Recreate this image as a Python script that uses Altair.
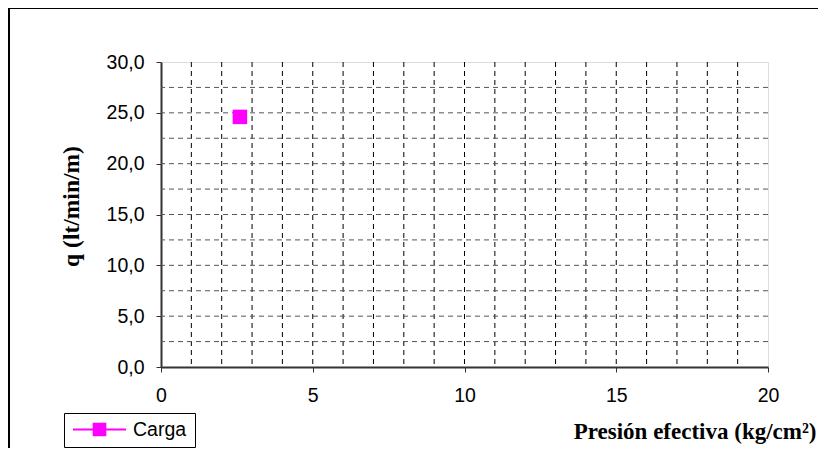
import altair as alt
import pandas as pd

# data
serie = ["Carga"]
presion = [2.6]
caudal = [24.6]

x_grid = list(range(1, 20))
y_grid = [2.5, 5, 7.5, 10, 12.5, 15, 17.5, 20, 22.5, 25, 27.5]
x_ticks = [0, 5, 10, 15, 20]
y_ticks = [0, 5, 10, 15, 20, 25, 30]

pts = pd.DataFrame({"serie": serie, "p": presion, "q": caudal})
xg = pd.DataFrame({"p": x_grid})
yg = pd.DataFrame({"q": y_grid})
one = pd.DataFrame({"a": [0]})

W, H = 607, 305

xscale = alt.Scale(domain=[0, 20], nice=False, zero=False)
yscale = alt.Scale(domain=[0, 30], nice=False, zero=False)

xaxis = alt.Axis(values=x_ticks, grid=False, title="Presión efectiva (kg/cm²)",
                 titleFont="Liberation Serif", titleFontSize=23, titleFontWeight="bold",
                 titleColor="black", titleAnchor="end", titleAlign="right",
                 titleBaseline="alphabetic", titleX=655, titleY=71,
                 labelFont="Liberation Sans", labelFontSize=19.5, labelColor="black",
                 labelPadding=14, tickSize=5, tickColor="#333333", tickWidth=1,
                 domainColor="#333333", domainWidth=2, labelFlush=False)
yaxis = alt.Axis(values=y_ticks, grid=False, title="q (lt/min/m)",
                 titleFont="Liberation Serif", titleFontSize=23.5, titleFontWeight="bold",
                 titleColor="black", titleAngle=-90, titleAlign="center",
                 titleBaseline="middle", titleX=-90, titleY=144,
                 labelExpr="replace(format(datum.value, '.1f'), '.', ',')",
                 labelFont="Liberation Sans", labelFontSize=19.5, labelColor="black",
                 labelPadding=12, tickSize=5, tickColor="#333333", tickWidth=1,
                 domainColor="#333333", domainWidth=2, labelFlush=False)

border = alt.Chart(one).mark_rect(fill=None, stroke="black", strokeWidth=2, clip=False).encode(
    x=alt.value(-152), x2=alt.value(720), y=alt.value(-54), y2=alt.value(420)
)

vgrid = alt.Chart(xg).mark_rule(color="black", strokeWidth=1, strokeDash=[5, 4]).encode(
    x=alt.X("p:Q", scale=xscale, axis=xaxis)
)
hgrid = alt.Chart(yg).mark_rule(color="#555555", strokeWidth=1, strokeDash=[5, 4]).encode(
    y=alt.Y("q:Q", scale=yscale, axis=yaxis)
)

points = alt.Chart(pts).mark_point(shape="square", filled=True, size=210, opacity=1).encode(
    x=alt.X("p:Q", scale=xscale, axis=xaxis),
    y=alt.Y("q:Q", scale=yscale, axis=yaxis),
    color=alt.Color("serie:N", scale=alt.Scale(domain=serie, range=["#FF00FF"]),
                    legend=alt.Legend(title=None, orient="none", legendX=-97, legendY=351,
                                      strokeColor="black", padding=8, clipHeight=17,
                                      symbolType="M-1,0H1M-0.22,-0.22H0.22V0.22H-0.22Z",
                                      symbolSize=2809, symbolStrokeColor="#FF00FF",
                                      symbolStrokeWidth=2, symbolFillColor="#FF00FF",
                                      labelFont="Liberation Sans", labelFontSize=19.5,
                                      labelColor="black", labelOffset=6)),
)

chart = alt.layer(border, vgrid, hgrid, points).properties(
    width=W, height=H,
    autosize=alt.AutoSizeParams(type="none"),
    padding={"left": 153, "top": 54, "right": 50, "bottom": 81},
).configure_view(stroke="#808080", strokeWidth=2).configure(background="white")

chart.save("out.html", embed_options={"renderer": "svg", "actions": False})
